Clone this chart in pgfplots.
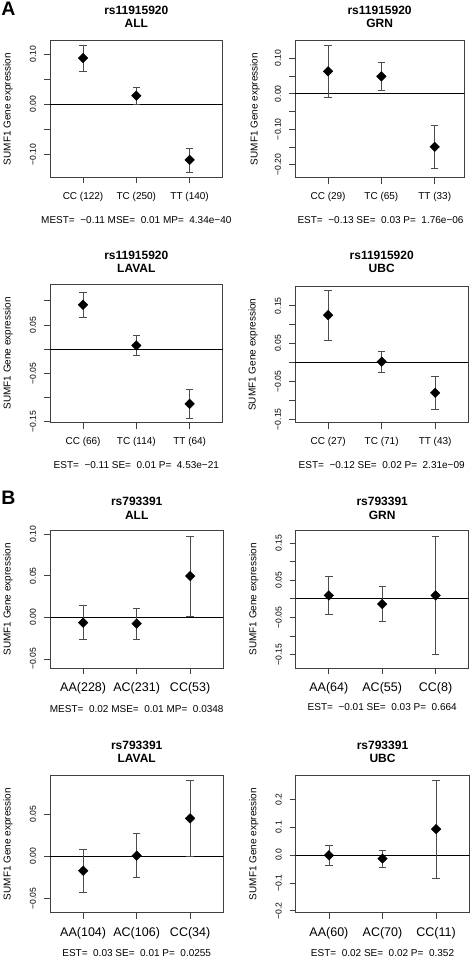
\documentclass[border=0pt]{standalone}
\usepackage{fontspec}
\setmainfont{Liberation Sans}
\usepackage{pgfplots}
\pgfplotsset{compat=1.18}
\newcommand{\fs}[1]{\fontsize{#1}{#1}\selectfont}
\newcommand{\yt}[2]{\node[xshift=-17pt, rotate=90, font=\fs{8.6}, inner sep=0pt, anchor=center] at (axis cs:0.38,#1) {#2};}
\pgfplotsset{
  rplot/.style={
    scale only axis, anchor=north west,
    axis line style={black!75, line width=0.7pt},
    tick align=outside, tick pos=left, major tick length=6pt,
    every tick/.style={black!75, line width=0.7pt},
    xtick={1,2,3}, xmin=0.38, xmax=3.62,
    yticklabel={\relax}, scaled y ticks=false,
    xticklabel style={anchor=north, inner sep=8.5pt, font=\fs{10}},
    clip mode=individual,
  },
  ptB/.style={xticklabel style={font=\fs{12.5}, inner sep=8.1pt}},
  pts/.style={only marks, mark=square*, mark size=3.4pt,
    mark options={rotate=45, fill=black, draw=black},
    error bars/.cd, y dir=both, y explicit,
    error bar style={black!70, line width=0.7pt},
    error mark options={rotate=90, black!70, line width=0.7pt, mark size=3.7pt}},
  zl/.style={black, line width=0.7pt, no marks},
}
\begin{document}
\begin{tikzpicture}
\begin{scope}[x=1pt,y=-1pt]
\useasboundingbox (0,0) rectangle (470,957);
\end{scope}

% ---- A: ALL
\begin{axis}[rplot, at={(50pt,-40.5pt)}, width=172.7pt, height=137pt,
  ymin=-0.146, ymax=0.127,
  ytick={-0.1,-0.05,0,0.05,0.1},
  xticklabels={CC (122),TC (250),TT (140)}]
\addplot[zl] coordinates {(0,0) (4,0)};
\addplot[pts] coordinates {(1,0.092) +- (0,0.0255) (2,0.017) +- (0,0.017) (3,-0.111) +- (0,0.024)};
\yt{-0.1}{−0.10}\yt{0}{0.00}\yt{0.1}{0.10}
\end{axis}

% ---- A: GRN
\begin{axis}[rplot, at={(295pt,-40.5pt)}, width=169.3pt, height=137.2pt,
  xmax=3.555, ymin=-0.237, ymax=0.150,
  ytick={-0.2,-0.15,-0.1,-0.05,0,0.05,0.1},
  xticklabels={CC (29),TC (65),TT (33)}]
\addplot[zl] coordinates {(0,0) (4,0)};
\addplot[pts] coordinates {(1,0.063) +- (0,0.073) (2,0.0487) +- (0,0.039) (3,-0.150) +- (0,0.062)};
\yt{-0.2}{−0.20}\yt{-0.1}{−0.10}\yt{0}{0.00}\yt{0.1}{0.10}
\end{axis}

% ---- A: LAVAL
\begin{axis}[rplot, at={(50pt,-284.3pt)}, width=172.7pt, height=138.4pt,
  ymin=-0.152, ymax=0.134,
  ytick={-0.15,-0.1,-0.05,0,0.05,0.1},
  xticklabels={CC (66),TC (114),TT (64)}]
\addplot[zl] coordinates {(0,0) (4,0)};
\addplot[pts] coordinates {(1,0.0917) +- (0,0.0266) (2,0.0076) +- (0,0.0204) (3,-0.113) +- (0,0.029)};
\yt{-0.15}{−0.15}\yt{-0.05}{−0.05}\yt{0.05}{0.05}
\end{axis}

% ---- A: UBC
\begin{axis}[rplot, at={(295pt,-286.7pt)}, width=173.3pt, height=136pt,
  ymin=-0.159, ymax=0.200,
  ytick={-0.15,-0.1,-0.05,0,0.05,0.1,0.15},
  xticklabels={CC (27),TC (71),TT (43)}]
\addplot[zl] coordinates {(0,0) (4,0)};
\addplot[pts] coordinates {(1,0.125) +- (0,0.066) (2,0.002) +- (0,0.028) (3,-0.080) +- (0,0.0435)};
\yt{-0.15}{−0.15}\yt{-0.05}{−0.05}\yt{0.05}{0.05}\yt{0.15}{0.15}
\end{axis}

% ---- B: ALL
\begin{axis}[rplot, ptB, at={(50pt,-530.7pt)}, width=173.3pt, height=137.6pt,
  ymin=-0.0612, ymax=0.104,
  ytick={-0.05,0,0.05,0.1},
  xticklabels={AA(228),AC(231),CC(53)}]
\addplot[zl] coordinates {(0,0) (4,0)};
\addplot[pts] coordinates {(1,-0.0064) +- (0,0.0206) (2,-0.0076) +- (0,0.0188) (3,0.0496) +- (0,0.048)};
\yt{-0.05}{−0.05}\yt{0}{0.00}\yt{0.05}{0.05}\yt{0.1}{0.10}
\end{axis}

% ---- B: GRN
\begin{axis}[rplot, ptB, at={(295.7pt,-530.7pt)}, width=173pt, height=137.6pt,
  ymin=-0.187, ymax=0.183,
  ytick={-0.15,-0.1,-0.05,0,0.05,0.1,0.15},
  xticklabels={AA(64),AC(55),CC(8)}]
\addplot[zl] coordinates {(0,0) (4,0)};
\addplot[pts] coordinates {(1,0.009) +- (0,0.0515) (2,-0.0143) +- (0,0.047) (3,0.009) +- (0,0.1595)};
\yt{-0.15}{−0.15}\yt{-0.05}{−0.05}\yt{0.05}{0.05}\yt{0.15}{0.15}
\end{axis}

% ---- B: LAVAL
\begin{axis}[rplot, ptB, at={(50pt,-775.3pt)}, width=173.3pt, height=137.4pt,
  ymin=-0.067, ymax=0.0964,
  ytick={-0.05,0,0.05},
  xticklabels={AA(104),AC(106),CC(34)}]
\addplot[zl] coordinates {(0,0) (4,0)};
\addplot[pts] coordinates {(1,-0.0171) +- (0,0.0253) (2,0.0008) +- (0,0.026) (3,0.0452) +- (0,0.0448)};
\yt{-0.05}{−0.05}\yt{0}{0.00}\yt{0.05}{0.05}
\end{axis}

% ---- B: UBC
\begin{axis}[rplot, ptB, at={(295.7pt,-775.3pt)}, width=173.6pt, height=137.4pt,
  ymin=-0.207, ymax=0.286,
  ytick={-0.2,-0.1,0,0.1,0.2},
  xticklabels={AA(60),AC(70),CC(11)}]
\addplot[zl] coordinates {(0,0) (4,0)};
\addplot[pts] coordinates {(1,-0.001) +- (0,0.0365) (2,-0.013) +- (0,0.0315) (3,0.093) +- (0,0.176)};
\yt{-0.2}{−0.2}\yt{-0.1}{−0.1}\yt{0}{0.0}\yt{0.1}{0.1}\yt{0.2}{0.2}
\end{axis}

\begin{scope}[x=1pt,y=-1pt]
\tikzset{ttl/.style={font=\fs{12}\bfseries, inner sep=0pt},
         sub/.style={font=\fs{10}, inner sep=0pt},
         yl/.style={font=\fs{10}, inner sep=0pt, rotate=90}}
\node[font=\fs{19.5}\bfseries, inner sep=0pt] at (8.5,9) {A};
\node[font=\fs{19.5}\bfseries, inner sep=0pt] at (8.3,497.5) {B};
% titles
\node[ttl] at (136.3,10) {rs11915920}; \node[ttl] at (136.3,23) {ALL};
\node[ttl] at (379.6,10) {rs11915920}; \node[ttl] at (379.6,23) {GRN};
\node[ttl] at (136.3,255) {rs11915920}; \node[ttl] at (136.3,268) {LAVAL};
\node[ttl] at (381.7,255) {rs11915920}; \node[ttl] at (381.7,268) {UBC};
\node[ttl] at (136.7,501.7) {rs793391}; \node[ttl] at (136.7,515) {ALL};
\node[ttl] at (382.2,501.7) {rs793391}; \node[ttl] at (382.2,515) {GRN};
\node[ttl] at (136.7,745) {rs793391}; \node[ttl] at (136.7,758) {LAVAL};
\node[ttl] at (382.5,745) {rs793391}; \node[ttl] at (382.5,758) {UBC};
% subtitles
\node[sub] at (136.3,220) {MEST=\ \ −0.11 MSE=\ \ 0.01 MP=\ \ 4.34e−40};
\node[sub] at (380.5,220) {EST=\ \ −0.13 SE=\ \ 0.03 P=\ \ 1.76e−06};
\node[sub] at (136.3,465) {EST=\ \ −0.11 SE=\ \ 0.01 P=\ \ 4.53e−21};
\node[sub] at (381.7,465) {EST=\ \ −0.12 SE=\ \ 0.02 P=\ \ 2.31e−09};
\node[sub] at (136.7,709) {MEST=\ \ 0.02 MSE=\ \ 0.01 MP=\ \ 0.0348};
\node[sub] at (382.2,707) {EST=\ \ −0.01 SE=\ \ 0.03 P=\ \ 0.664};
\node[sub] at (136.7,953) {EST=\ \ 0.03 SE=\ \ 0.01 P=\ \ 0.0255};
\node[sub] at (382.5,953) {EST=\ \ 0.02 SE=\ \ 0.02 P=\ \ 0.352};
% y labels
\node[yl] at (8,109) {SUMF1 Gene expression};
\node[yl] at (255,109) {SUMF1 Gene expression};
\node[yl] at (8,353.5) {SUMF1 Gene expression};
\node[yl] at (253,354.7) {SUMF1 Gene expression};
\node[yl] at (8,599.5) {SUMF1 Gene expression};
\node[yl] at (253.7,599.5) {SUMF1 Gene expression};
\node[yl] at (8,844) {SUMF1 Gene expression};
\node[yl] at (253.7,844) {SUMF1 Gene expression};
\end{scope}
\end{tikzpicture}
\end{document}
